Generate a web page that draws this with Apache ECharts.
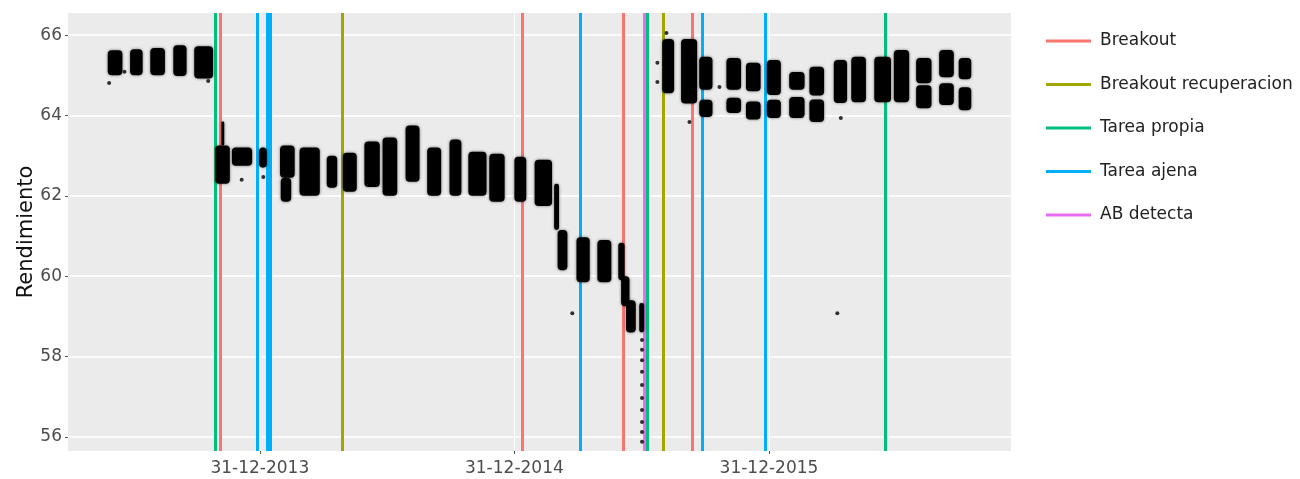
<!DOCTYPE html>
<html>
<head>
<meta charset="utf-8">
<title>Rendimiento</title>
<script src="https://cdn.jsdelivr.net/npm/echarts@6/dist/echarts.min.js"></script>
<style>
html, body { margin: 0; padding: 0; background: #fff; }
#chart { width: 1300px; height: 479px; }
</style>
</head>
<body>
<div id="chart"></div>
<script>
"use strict";

// cluster of daily values: start date, end date, lowest, highest
var clusters = [
	['2013-05-27', '2013-06-17', 65.00, 65.62],
	['2013-06-28', '2013-07-16', 65.00, 65.65],
	['2013-07-27', '2013-08-17', 65.00, 65.68],
	['2013-08-29', '2013-09-17', 64.98, 65.75],
	['2013-09-28', '2013-10-25', 64.92, 65.72],
	['2013-10-28', '2013-11-18', 62.30, 63.25],
	['2013-11-06', '2013-11-10', 63.25, 63.85],
	['2013-11-21', '2013-12-20', 62.75, 63.20],
	['2013-12-30', '2014-01-10', 62.70, 63.20],
	['2014-01-29', '2014-02-19', 62.45, 63.25],
	['2014-01-30', '2014-02-14', 61.85, 62.45],
	['2014-02-26', '2014-03-27', 62.00, 63.20],
	['2014-04-06', '2014-04-21', 62.20, 63.00],
	['2014-04-29', '2014-05-19', 62.10, 63.07],
	['2014-05-30', '2014-06-21', 62.22, 63.35],
	['2014-06-25', '2014-07-16', 62.00, 63.45],
	['2014-07-28', '2014-08-17', 62.35, 63.75],
	['2014-08-28', '2014-09-17', 62.00, 63.20],
	['2014-09-29', '2014-10-16', 62.00, 63.40],
	['2014-10-26', '2014-11-21', 62.00, 63.10],
	['2014-11-25', '2014-12-17', 61.85, 63.05],
	['2014-12-31', '2015-01-17', 61.85, 62.97],
	['2015-01-29', '2015-02-23', 61.75, 62.90],
	['2015-02-26', '2015-03-05', 61.15, 62.30],
	['2015-03-03', '2015-03-17', 60.15, 61.15],
	['2015-03-30', '2015-04-18', 59.85, 60.97],
	['2015-04-29', '2015-05-19', 59.85, 60.90],
	['2015-05-29', '2015-06-07', 59.90, 60.83],
	['2015-06-02', '2015-06-14', 59.25, 60.00],
	['2015-06-09', '2015-06-23', 58.60, 59.40],
	['2015-06-28', '2015-07-05', 58.60, 59.33],
	['2015-07-31', '2015-08-17', 64.55, 65.90],
	['2015-08-27', '2015-09-19', 64.30, 65.90],
	['2015-09-22', '2015-10-11', 64.64, 65.46],
	['2015-09-22', '2015-10-11', 63.96, 64.39],
	['2015-10-31', '2015-11-21', 64.64, 65.43],
	['2015-10-31', '2015-11-21', 64.06, 64.44],
	['2015-11-28', '2015-12-19', 64.60, 65.31],
	['2015-11-28', '2015-12-19', 63.90, 64.35],
	['2015-12-28', '2016-01-17', 64.51, 65.38],
	['2015-12-28', '2016-01-17', 63.94, 64.39],
	['2016-01-29', '2016-02-20', 64.64, 65.08],
	['2016-01-29', '2016-02-20', 63.94, 64.46],
	['2016-02-27', '2016-03-19', 64.50, 65.21],
	['2016-02-27', '2016-03-19', 63.84, 64.40],
	['2016-04-02', '2016-04-21', 64.31, 65.38],
	['2016-04-27', '2016-05-18', 64.33, 65.46],
	['2016-05-30', '2016-06-23', 64.33, 65.46],
	['2016-06-27', '2016-07-19', 64.33, 65.63],
	['2016-07-29', '2016-08-20', 64.80, 65.43],
	['2016-07-29', '2016-08-20', 64.18, 64.75],
	['2016-08-31', '2016-09-21', 64.95, 65.63],
	['2016-08-31', '2016-09-21', 64.26, 64.80],
	['2016-09-28', '2016-10-16', 64.90, 65.43],
	['2016-09-28', '2016-10-16', 64.13, 64.70]
];

var outliers = [
	['2013-05-29', 64.81], ['2013-06-20', 65.09], ['2013-10-18', 64.86],
	['2013-12-05', 62.40], ['2014-01-05', 62.47], ['2015-03-24', 59.08],
	['2015-07-24', 65.31], ['2015-07-24', 64.83], ['2015-08-06', 66.05],
	['2015-09-08', 63.84], ['2015-10-21', 64.71], ['2016-04-07', 59.08],
	['2016-04-12', 63.94],
	['2015-07-02', 58.41], ['2015-07-02', 58.17], ['2015-07-02', 57.91],
	['2015-07-02', 57.62], ['2015-07-02', 57.29], ['2015-07-02', 56.97],
	['2015-07-02', 56.67], ['2015-07-02', 56.37], ['2015-07-02', 56.12],
	['2015-07-02', 55.88]
];

var breakoutDates = ['2013-11-05', '2015-01-11', '2015-06-05', '2015-09-12'];
var recuperacionDates = ['2014-04-28', '2015-08-02'];
var propiaDates = ['2013-10-28', '2015-07-09', '2016-06-15'];
var ajenaDates = ['2013-12-28', '2014-01-11', '2014-01-15', '2015-04-05', '2015-09-27', '2015-12-26'];
var abDates = ['2015-07-05'];

var tickDates = ['2013-12-31', '2014-12-31', '2015-12-31'];
var yTicks = [56, 58, 60, 62, 64, 66];

var font = '"DejaVu Sans", Verdana, sans-serif';

function toTime(s) {
	var p = s.split('-');
	return new Date(+p[0], +p[1] - 1, +p[2]).getTime();
}

function pad(n) {
	return n < 10 ? '0' + n : '' + n;
}

function eventSeries(name, color, dates) {
	return {
		name: name,
		type: 'line',
		data: [],
		itemStyle: { color: color },
		lineStyle: { color: color, width: 3 },
		markLine: {
			silent: true,
			symbol: ['none', 'none'],
			label: { show: false },
			emphasis: { disabled: true },
			lineStyle: { color: color, width: 3, type: 'solid', opacity: 1 },
			data: dates.map(function(d) { return { xAxis: toTime(d) }; })
		}
	};
}

function renderCluster(params, api) {
	var a = api.coord([api.value(0), api.value(3)]);
	var b = api.coord([api.value(1), api.value(2)]);
	var w = b[0] - a[0];
	var h = b[1] - a[1];
	return {
		type: 'rect',
		shape: { x: a[0], y: a[1], width: w, height: h, r: Math.min(w / 2, 4) },
		style: { fill: '#000', shadowBlur: 3, shadowColor: 'rgba(0,0,0,0.55)' }
	};
}

var myChart = echarts.init(document.getElementById('chart'));

var option = {
	animation: false,
	backgroundColor: '#fff',
	textStyle: { fontFamily: font },
	grid: {
		left: 68,
		right: 289,
		top: 13,
		bottom: 28,
		show: true,
		backgroundColor: '#EBEBEB',
		borderWidth: 0
	},
	legend: {
		orient: 'vertical',
		left: 1041,
		top: 26,
		itemWidth: 45,
		itemHeight: 3,
		itemGap: 23.5,
		icon: 'rect',
		selectedMode: false,
		textStyle: { fontFamily: font, fontSize: 17, lineHeight: 20, color: '#222', padding: [0, 0, 0, 4] },
		data: ['Breakout', 'Breakout recuperacion', 'Tarea propia', 'Tarea ajena', 'AB detecta']
	},
	xAxis: {
		type: 'value',
		min: toTime('2013-03-31'),
		max: toTime('2016-12-12'),
		axisLine: { show: false },
		axisTick: {
			customValues: tickDates.map(toTime),
			length: 3,
			lineStyle: { color: '#555' }
		},
		axisLabel: {
			customValues: tickDates.map(toTime),
			margin: 9,
			fontFamily: font,
			fontSize: 17,
			color: '#4D4D4D',
			formatter: function(v) {
				var d = new Date(v);
				return pad(d.getDate()) + '-' + pad(d.getMonth() + 1) + '-' + d.getFullYear();
			}
		},
		splitLine: { show: true, lineStyle: { color: '#fff', width: 1 } }
	},
	yAxis: {
		type: 'value',
		min: 55.65,
		max: 66.55,
		name: 'Rendimiento',
		nameLocation: 'middle',
		nameGap: 31,
		nameMoveOverlap: false,
		nameTextStyle: { fontFamily: font, fontSize: 21, color: '#111' },
		axisLine: { show: false },
		axisTick: {
			customValues: yTicks,
			length: 3,
			lineStyle: { color: '#555' }
		},
		axisLabel: {
			customValues: yTicks,
			margin: 6,
			fontFamily: font,
			fontSize: 17,
			color: '#4D4D4D'
		},
		splitLine: { show: true, lineStyle: { color: '#fff', width: 1.5 } }
	},
	series: [
		eventSeries('Breakout', '#F8766D', breakoutDates),
		eventSeries('Breakout recuperacion', '#A3A500', recuperacionDates),
		eventSeries('Tarea propia', '#00BF7D', propiaDates),
		eventSeries('Tarea ajena', '#00B0F6', ajenaDates),
		eventSeries('AB detecta', '#E76BF3', abDates),
		{
			name: 'clusters',
			type: 'custom',
			z: 5,
			silent: true,
			renderItem: renderCluster,
			encode: { x: [0, 1], y: [2, 3] },
			data: clusters.map(function(c) { return [toTime(c[0]), toTime(c[1]), c[2], c[3]]; })
		},
		{
			name: 'puntos',
			type: 'scatter',
			z: 5,
			silent: true,
			symbolSize: 4,
			itemStyle: { color: '#000' },
			data: outliers.map(function(o) { return [toTime(o[0]), o[1]]; })
		}
	]
};

myChart.setOption(option);
</script>
</body>
</html>
